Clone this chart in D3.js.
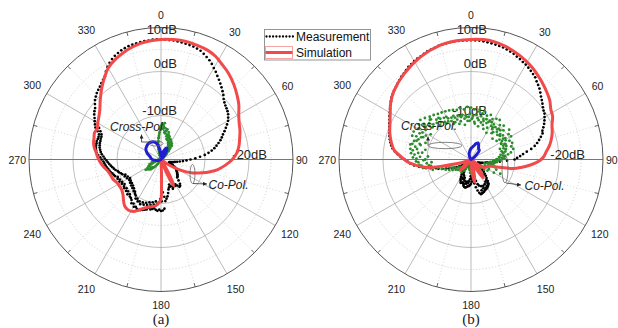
<!DOCTYPE html>
<html><head><meta charset="utf-8">
<script src="https://cdn.jsdelivr.net/npm/d3@7"></script>
<style>body{margin:0;background:#fff}svg{display:block}</style>
</head><body>
<svg id="c" width="618" height="328"></svg>
<script>
// ---------- data ----------
const angleTicks = [0,30,60,90,120,150,180,210,240,270,300,330];
const angleLabels = ["0","30","60","90","120","150","180","210","240","270","300","330"];
const ringValues = [10,0,-10];
const minorRings = [5,-5,-15];
const ringLabels = ["10dB","0dB","-10dB"];
const centerLabel = "-20dB";
const seriesNames = ["Measurement","Simulation"];
const panelNames = ["(a)","(b)"];

const measAngles = d3.range(0,360,2);
// (a) measured co-pol (dB), every 2 deg
const measA = [
 7.3,7.3,7.2,7.2,7.1,7.0,6.9,6.8,6.7,6.5,
 6.3,5.9,5.5,5.1,4.6,4.0,3.5,2.9,2.4,1.9,
 1.4,0.9,0.4,-0.2,-0.6,-0.9,-1.1,-1.3,-1.6,-2.0,
 -2.4,-3.0,-3.6,-4.2,-4.8,-5.3,-5.8,-6.4,-7.0,-7.6,
 -8.3,-9.1,-10.0,-11.1,-12.2,-13.3,-14.2,-15.0,-15.7,-16.3,
 -16.8,-17.2,-17.5,-17.8,-18.0,-18.0,-17.6,-17.2,-17.0,-16.6,
 -16.2,-16.0,-15.8,-15.6,-15.4,-15.2,-15.0,-14.8,-14.6,-14.5,
 -13.8,-13.0,-12.6,-12.5,-13.0,-13.5,-13.2,-13.6,-13.2,-12.8,
 -13.5,-14.0,-13.4,-13.0,-12.2,-11.5,-11.0,-10.5,-8.8,-8.4,
 -8.3,-8.6,-8.3,-8.5,-8.8,-8.6,-8.4,-8.7,-8.2,-8.0,
 -7.8,-7.6,-7.4,-7.5,-7.8,-7.6,-8.2,-8.0,-8.6,-8.9,
 -9.0,-9.4,-9.0,-9.6,-9.3,-9.8,-9.4,-9.6,-10.0,-9.5,
 -9.8,-9.3,-9.6,-9.2,-9.4,-8.9,-8.7,-8.5,-8.2,-8.0,
 -7.8,-7.5,-7.3,-7.1,-6.9,-6.5,-6.2,-5.7,-5.3,-5.1,
 -5.0,-4.9,-4.9,-4.8,-4.9,-4.9,-4.8,-4.2,-3.4,-3.0,
 -2.6,-2.2,-1.7,-1.3,-1.0,-0.4,0.2,0.6,1.0,1.3,
 1.6,2.0,2.4,2.8,3.6,4.3,4.9,5.4,5.8,6.1,
 6.4,6.6,6.8,6.9,7.0,7.1,7.2,7.2,7.3,7.3];
// (a) second sweep in the scattered back region
const extraA_angles = d3.range(175,299,2);
const extraA = [
 -11.5,-12.5,-10.5,-11.0,-10.2,-9.8,-10.4,-9.6,-10.1,-9.4,
 -9.9,-9.2,-9.6,-9.0,-9.4,-8.8,-9.3,-9.1,-9.6,-9.4,
 -10.0,-10.2,-10.6,-10.5,-11.0,-10.8,-11.3,-11.0,-11.5,-11.2,
 -11.6,-11.4,-11.8,-11.2,-11.5,-10.9,-11.2,-10.6,-10.4,-10.0,
 -9.8,-9.4,-9.1,-8.8,-8.5,-8.2,-7.9,-7.6,-7.2,-6.9,
 -6.5,-6.2,-6.0,-5.8,-5.7,-5.6,-5.6,-5.5,-5.5,-5.3,
 -4.8,-4.2];
// (a) simulated co-pol
const simA_deg = [0,6,12,18,23,28,32,38,44,50,55,60,65,70,75,80,85,90,95,100,
 104,108,113,119,125,131,146,151,154.5,157,161,176,178,179,180,182,186,192,
 197,203,208,213,218,222,227,232,237,242,248,253,258,263,268,272,276,280,284,288,
 292,296,300,305,309,315,321,326,330,336,341,346,350,355];
const simA_db = [7.3,7.4,7.4,7.2,7.0,6.5,5.8,4.9,3.8,2.6,1.6,0.4,-0.4,-0.9,-1.5,-2.0,-2.7,-3.8,-5.3,-6.9,
 -8.5,-10.2,-12.2,-15,-18,-20,-20,-16,-13.3,-16,-20,-20,-17,-13.5,-11,-10.3,-9.5,-9.0,
 -8.6,-7.6,-6.6,-6.3,-6.6,-7.3,-8.2,-8.7,-8.8,-8.7,-8.2,-8.0,-7.6,-6.8,-6.1,-5.6,-5.2,-4.6,-4.2,-4.0,
 -3.7,-3.9,-3.4,-2.8,-2.1,-0.5,1.3,2.8,4.0,5.1,5.8,6.4,6.8,7.1];
// (a) measured cross-pol
const crossMeasA = [
 -12.5,-11.8,-12.2,-11.7,-12.8,-13.5,-13.0,-14.2,-13.6,-14.8,
 -14.4,-15.5,-15.0,-16.2,-15.6,-15.8,-16.5,-15.6,-16.8,-16.0,
 -17.0,-17.5,-18.2,-18.8,-19.5,-19.2,-19.8,-21,-21,-21,
 -21,-21,-21,-21,-21,-21,-21,-21,-21,-21,
 -21,-21,-21,-21,-21,-21,-21,-21,-21,-21,
 -21,-21,-21,-21,-21,-21,-21,-21,-21,-21,
 -21,-21,-21,-21,-21,-21,-21,-21,-21,-21,
 -21,-21,-21,-21,-21,-21,-21,-21,-21,-21,
 -21,-21,-21,-21,-21,-21,-21,-21,-21,-21,
 -21,-21,-21,-21,-21,-21,-21,-21,-21,-21,
 -21,-21,-21,-20.5,-20,-19.5,-19.8,-19.2,-18.8,-18.5,
 -18.0,-17.6,-17.2,-16.8,-17.4,-16.5,-17.0,-16.2,-15.8,-16.4,
 -17.0,-16.8,-17.5,-18.0,-17.2,-18.5,-17.8,-18.6,-19.0,-18.2,
 -19.2,-18.8,-19.5,-20,-20.5,-21,-21,-21,-21,-21,
 -21,-21,-21,-21,-21,-21,-21,-21,-21,-21,
 -21,-21,-21,-21,-21,-21,-21,-21,-21,-21,
 -21,-21,-21,-21,-21,-21,-21,-21,-20.5,-20,
 -19.5,-19.0,-18.5,-18.0,-17.2,-16.5,-15.8,-15.0,-14.2,-13.2];
// (a) second cross-pol sweep in the upper lobe
const crossExtraA_angles = d3.range(-15,47,2);
const crossExtraA = [
 -18.5,-17.6,-16.8,-16.0,-15.2,-14.6,-13.8,-12.9,
 -12.2,-13.0,-12.6,-13.8,-14.0,-13.2,-14.6,-15.2,-14.1,-15.4,
 -14.8,-15.9,-14.9,-16.4,-15.3,-16.8,-15.9,-16.4,-17.2,-16.6,
 -17.5,-18.1,-18.6];
// (a) simulated cross-pol
const crossSimA_deg = [0,8,15,22,27,32,40,50,70,120,200,250,270,285,295,305,312,320,328,337,345,352,357];
const crossSimA_db = [-19.2,-18.8,-18.2,-17.4,-17.1,-17.5,-19.0,-20,-20,-20,-20,-19.5,-18,-17.4,-16.5,-15.8,-15.6,-15.4,-15.4,-15.6,-16.2,-17.5,-18.6];

// (b) measured co-pol
const measB = [
 7.1,7.1,7.1,7.0,6.9,6.8,6.7,6.6,6.5,6.3,
 6.1,5.9,5.6,5.4,5.1,4.9,4.6,4.3,4.0,3.7,
 3.2,2.8,2.4,1.9,1.4,1.0,0.6,0.2,-0.1,-0.3,
 -0.7,-1.1,-1.5,-2.0,-2.5,-2.7,-3.3,-3.9,-4.5,-5.2,
 -6.1,-7.2,-8.1,-8.8,-9.5,-10.1,-11.8,-13.4,-14.5,-15.6,
 -16.2,-16.5,-16.8,-17.2,-17.5,-17.8,-18.0,-18.2,-18.3,-18.2,
 -18.0,-17.8,-17.5,-17.2,-17.0,-16.7,-16.5,-16.0,-15.5,-15.0,
 -14.5,-13.8,-13.2,-13.0,-12.8,-12.6,-12.5,-12.4,-12.3,-12.1,
 -12.0,-11.9,-11.8,-12.2,-12.8,-13.6,-14.5,-15.0,-15.5,-15.0,
 -14.5,-14.2,-14.0,-13.9,-13.8,-13.6,-13.5,-13.6,-13.8,-14.2,
 -14.5,-14.3,-14.2,-14.6,-15.0,-15.5,-16.0,-16.4,-16.8,-17.2,
 -17.5,-17.8,-18.0,-18.2,-18.4,-18.3,-18.2,-17.8,-17.5,-17.2,
 -16.8,-16.3,-15.8,-15.2,-14.5,-13.9,-13.2,-12.3,-11.8,-10.5,
 -9.2,-8.1,-7.0,-6.2,-5.6,-4.9,-4.0,-3.3,-2.6,-2.0,
 -1.6,-1.3,-1.0,-0.7,-0.5,-0.3,0.0,0.3,0.6,1.0,
 1.3,1.7,2.1,2.5,2.9,3.2,3.5,3.7,4.0,4.3,
 4.6,4.8,5.1,5.4,5.6,5.8,6.0,6.1,6.3,6.5,
 6.6,6.7,6.9,6.9,7.0,7.1,7.1,7.1,7.1,7.1];
const extraB_angles = d3.range(141,221,2);
const extraB = [
 -15.5,-14.2,-13.5,-14.0,-13.0,-13.6,-12.8,-13.4,-12.9,-13.5,
 -12.6,-13.8,-14.2,-15.0,-16.0,-16.5,-17.0,-16.2,-16.8,-15.8,
 -16.2,-15.5,-15.0,-14.6,-14.9,-14.4,-14.8,-14.3,-15.0,-15.6,
 -15.2,-16.0,-15.4,-16.3,-16.8,-17.4,-17.9,-18.5,-18.8,-19.2];
// (b) simulated co-pol
const simB_deg = [0,6,11,17,22,28,33,38,43,48,53,58,62,67,72,76,80,84,88,92,
 95,99,102,106,110,116,122,128,136,141,146,151,156,163,167,171,175,180,215,221,
 225,229,234,246,250,254,257,259,262,265,268,272,277,282,288,295,300,305,312,322,
 334,345,353];
const simB_db = [7.3,7.4,7.3,6.9,6.4,5.8,5.2,4.5,3.8,3.1,2.4,1.4,1.0,0.0,-0.6,-1.2,-1.9,-2.8,-3.5,-4.8,
 -6.3,-8.5,-10.2,-13.9,-15.5,-16.2,-16.5,-20,-20,-17,-15,-17.5,-20,-20,-17,-14.8,-17,-20,-20,-18,
 -16.5,-18,-20,-20,-18.5,-16.5,-13.5,-10.5,-8.5,-7.0,-5.5,-4.2,-2.4,-1.5,-0.6,0.3,1.2,2.3,3.5,4.7,
 6.0,6.9,7.2];
// (b) measured cross-pol
const crossMeasB = [
 -8.2,-10.5,-8.6,-11.8,-9.0,-8.4,-12.3,-9.2,-8.6,-10.8,
 -9.4,-12.5,-8.9,-10.2,-9.6,-13.0,-9.1,-11.2,-8.9,-12.4,
 -9.8,-10.6,-9.3,-13.2,-10.1,-11.5,-9.0,-12.8,-9.7,-10.8,
 -9.5,-12.2,-10.3,-11.4,-9.9,-13.0,-10.4,-11.8,-10.1,-12.6,
 -10.8,-11.5,-12.2,-13.5,-12.4,-14.2,-13.3,-15.0,-14.1,-15.6,
 -14.8,-16.2,-15.2,-16.8,-14.3,-15.9,-13.8,-16.5,-12.6,-15.4,
 -14.0,-16.8,-15.5,-17.4,-16.2,-17.8,-17.0,-18.2,-17.5,-18.6,
 -18.0,-19.0,-18.4,-19.3,-18.8,-19.5,-18.7,-19.2,-18.5,-19.6,
 -18.9,-19.4,-18.2,-19.0,-17.8,-18.6,-17.5,-18.4,-17.2,-18.1,
 -16.9,-17.8,-17.0,-18.3,-17.6,-18.8,-18.0,-19.1,-18.4,-19.3,
 -18.6,-19.0,-18.2,-18.8,-17.6,-18.4,-17.0,-17.9,-16.4,-17.3,
 -17.5,-18.2,-17.0,-17.8,-16.6,-17.4,-16.2,-17.0,-15.8,-16.6,
 -15.2,-16.0,-14.5,-15.4,-13.8,-14.8,-13.0,-14.2,-12.2,-11.6,
 -8.9,-10.4,-8.2,-11.0,-7.5,-9.6,-6.8,-10.2,-6.3,-8.8,
 -6.0,-9.4,-5.8,-8.1,-6.4,-9.0,-5.6,-7.6,-5.5,-8.4,
 -6.1,-9.2,-5.7,-7.3,-5.4,-8.6,-5.9,-7.0,-6.5,-9.5,
 -6.8,-8.0,-7.2,-10.1,-7.4,-8.8,-7.6,-11.0,-7.8,-9.3,
 -8.0,-11.5,-8.3,-9.8,-8.1,-12.0,-8.5,-10.3,-8.0,-11.2];
// (b) second cross-pol sweep over the upper band (negative = west of north)
const crossExtraB_angles = d3.range(-105,107,2);
const crossExtraB = [
 -11.0,-12.3,-9.6,-10.8,-8.7,-9.9,-8.0,-9.2,
 -7.6,-8.4,-7.1,-7.9,-6.6,-7.5,-7.0,-6.2,-7.8,-6.9,
 -7.2,-6.5,-8.0,-6.9,-7.4,-6.3,-7.7,-7.0,-6.6,-7.9,
 -7.4,-8.3,-7.1,-8.6,-8.0,-9.1,-8.4,-9.6,-8.7,-9.9,
 -9.3,-10.2,-9.5,-10.8,-9.8,-10.4,-9.6,-11.0,-10.1,-9.7,
 -10.6,-9.9,-11.2,-10.3,-9.6,-10.8,-10.0,-11.4,-9.8,-10.5,
 -10.9,-9.9,-11.3,-10.4,-11.7,-10.2,-11.0,-10.6,-11.9,-10.3,
 -11.1,-10.5,-11.6,-10.8,-12.0,-10.9,-11.4,-10.6,-11.8,-11.2,
 -11.5,-10.9,-12.1,-11.3,-11.8,-11.0,-12.3,-11.6,-12.0,-11.4,
 -12.2,-11.7,-12.8,-12.0,-12.5,-13.2,-12.7,-13.6,-13.0,-14.1,
 -13.8,-14.6,-14.2,-15.1,-14.7,-15.5,-15.0,-15.8];
// (b) simulated cross-pol
const crossSimB_deg = [0,6,12,18,23,28,35,42,50,60,80,180,300,330,340,350,356];
const crossSimB_db = [-17.5,-17.2,-16.8,-16.2,-15.9,-16.3,-17.0,-17.2,-18.5,-19.6,-20,-20,-20,-19.5,-18.8,-18.2,-17.8];

// ---------- drawing ----------
const R = 132;
const FONT = "'Liberation Sans', Arial, sans-serif";
const COL = {meas:"#000", sim:"#f24a4a", xmeas:"#2a8c2a", xsim:"#1f1fd0"};
const svg = d3.select("#c");
svg.append("rect").attr("width",618).attr("height",328).attr("fill","#fff");
const defs = svg.append("defs");
defs.append("marker").attr("id","arr").attr("viewBox","0 0 10 10").attr("refX",10).attr("refY",5)
  .attr("markerWidth",5).attr("markerHeight",5).attr("orient","auto")
  .append("path").attr("d","M0,0L10,5L0,10z").attr("fill","#222");

const rS = d3.scaleLinear().domain([-20,10]).range([0,R]).clamp(true);
const toRad = d3.scaleLinear().domain([0,360]).range([0,2*Math.PI]);
const pt = (a,v) => { const r=rS(v), t=toRad(a); return [r*Math.sin(t), -r*Math.cos(t)]; };
const radialLine = d3.lineRadial().angle(d=>toRad(d[0])).radius(d=>rS(d[1]))
  .curve(d3.curveCatmullRomClosed.alpha(0.5));

const charts = [
 {cx:161, cy:159.5, name:panelNames[0], meas:measA, extraAng:extraA_angles, extra:extraA,
  simDeg:simA_deg, sim:simA_db, xmeas:crossMeasA, xExtraAng:crossExtraA_angles, xExtra:crossExtraA,
  xsimDeg:crossSimA_deg, xsim:crossSimA_db, cLabX:106,
  cross:{tx:110, ty:127, ax:141.5, ay0:142, ay1:134.5, lx:150, ex:156, ey:143.5, erx:7, ery:2.5},
  co:{ex:192.5, ey:174, erx:2.5, ery:9.5, x0:193, y0:183.5, x1:207, y1:184, tx:208.5, ty:184.5}},
 {cx:471, cy:159.5, name:panelNames[1], meas:measB, extraAng:extraB_angles, extra:extraB,
  simDeg:simB_deg, sim:simB_db, xmeas:crossMeasB, xExtraAng:crossExtraB_angles, xExtra:crossExtraB,
  xsimDeg:crossSimB_deg, xsim:crossSimB_db, cLabX:114,
  cross:{tx:401, ty:126, ax:428, ay0:145.5, ay1:136.5, lx:428, ex:445, ey:145.5, erx:17, ery:3.2},
  co:{ex:505, ey:169, erx:3, ery:14, x0:506, y0:183, x1:521, y1:185, tx:524.5, ty:186}}
];

charts.forEach(c => {
  const g = svg.append("g").attr("transform",`translate(${c.cx},${c.cy})`);
  // minor rings
  g.selectAll(".mr").data(minorRings).join("circle").attr("r",d=>rS(d))
    .attr("fill","none").attr("stroke","#c4c4c4").attr("stroke-width",0.7).attr("stroke-dasharray","1.2,2");
  // minor spokes
  g.selectAll(".ms").data(angleTicks).join("line")
    .attr("x1",0).attr("y1",0)
    .attr("x2",d=>R*Math.sin(toRad(d+15))).attr("y2",d=>-R*Math.cos(toRad(d+15)))
    .attr("stroke","#cfcfcf").attr("stroke-width",0.7).attr("stroke-dasharray","1.2,2");
  // major rings
  g.selectAll(".rg").data(ringValues.filter(v=>v<10)).join("circle").attr("r",d=>rS(d))
    .attr("fill","none").attr("stroke","#b0b0b0").attr("stroke-width",0.8);
  // major spokes
  g.selectAll(".sp").data(angleTicks).join("line")
    .attr("x1",0).attr("y1",0)
    .attr("x2",d=>R*Math.sin(toRad(d))).attr("y2",d=>-R*Math.cos(toRad(d)))
    .attr("stroke",d=>(d%180===90)?"#777":"#a8a8a8").attr("stroke-width",d=>(d%180===90)?1:0.8);
  // outer circle + minor ticks
  g.append("circle").attr("r",rS(10)).attr("fill","none").attr("stroke","#555").attr("stroke-width",1);
  g.selectAll(".tk").data(angleTicks).join("line")
    .attr("x1",d=>R*Math.sin(toRad(d+15))).attr("y1",d=>-R*Math.cos(toRad(d+15)))
    .attr("x2",d=>(R-4)*Math.sin(toRad(d+15))).attr("y2",d=>-(R-4)*Math.cos(toRad(d+15)))
    .attr("stroke","#555").attr("stroke-width",0.9);
  // angle labels
  g.selectAll(".al").data(angleTicks).join("text")
    .attr("font-family",FONT).attr("font-size",10.5).attr("fill","#222")
    .attr("text-anchor","middle").attr("dominant-baseline","central")
    .text((d,i)=>angleLabels[i])
    .each(function(d){
      const w=this.getComputedTextLength(), t=toRad(d);
      const s=Math.abs(Math.sin(t)), co=Math.abs(Math.cos(t));
      const rr = R + 6*co + 3*s + s*w/2 + co*7;
      d3.select(this).attr("x",rr*Math.sin(t)).attr("y",-rr*Math.cos(t));
    });
  // ring labels
  const offs = [2,-8,-5.5];
  g.selectAll(".rl").data(ringValues).join("text")
    .attr("font-family",FONT).attr("font-size",13).attr("fill","#222")
    .attr("text-anchor","end").attr("dominant-baseline","central")
    .attr("x",16).attr("y",(d,i)=>-rS(d)+offs[i]).text((d,i)=>ringLabels[i]);
  g.append("text").attr("font-family",FONT).attr("font-size",13).attr("fill","#222")
    .attr("text-anchor","end").attr("dominant-baseline","central")
    .attr("x",c.cLabX).attr("y",-5).text(centerLabel);

  // measured co-pol dots
  const mPts = measAngles.map((a,i)=>[a,c.meas[i]]).concat(c.extraAng.map((a,i)=>[a,c.extra[i]]));
  g.selectAll(".md").data(mPts.filter(d=>d[1]>=-20)).join("circle")
    .attr("cx",d=>pt(d[0],d[1])[0]).attr("cy",d=>pt(d[0],d[1])[1]).attr("r",1.35).attr("fill",COL.meas);
  // measured cross-pol dots
  const xPts = measAngles.map((a,i)=>[a,c.xmeas[i]])
    .concat(c.xExtraAng.map((a,i)=>[a,c.xExtra[i]])).filter(d=>d[1]>=-20);
  g.selectAll(".xd").data(xPts).join("circle")
    .attr("cx",d=>pt(d[0],d[1])[0]).attr("cy",d=>pt(d[0],d[1])[1]).attr("r",1.4).attr("fill",COL.xmeas);
  // simulated co-pol
  g.append("path").attr("d",radialLine(c.simDeg.map((a,i)=>[a,c.sim[i]])))
    .attr("fill","none").attr("stroke",COL.sim).attr("stroke-width",3).attr("stroke-linejoin","round");
  // simulated cross-pol
  g.append("path").attr("d",radialLine(c.xsimDeg.map((a,i)=>[a,c.xsim[i]])))
    .attr("fill","none").attr("stroke",COL.xsim).attr("stroke-width",3).attr("stroke-linejoin","round");

  // annotations (absolute coords)
  const a = svg.append("g");
  const cr = c.cross;
  a.append("text").attr("x",cr.tx).attr("y",cr.ty).attr("dominant-baseline","central")
    .attr("font-family",FONT).attr("font-size",12).attr("font-style","italic").attr("fill","#222").text("Cross-Pol.");
  a.append("ellipse").attr("cx",cr.ex).attr("cy",cr.ey).attr("rx",cr.erx).attr("ry",cr.ery)
    .attr("fill","none").attr("stroke","#666").attr("stroke-width",0.8);
  a.append("path").attr("d",`M${cr.lx},${cr.ay0}L${cr.ax},${cr.ay0}`).attr("stroke","#333").attr("stroke-width",0.8);
  a.append("path").attr("d",`M${cr.ax},${cr.ay0}L${cr.ax},${cr.ay1}`).attr("stroke","#333").attr("stroke-width",0.8)
    .attr("marker-end","url(#arr)");
  const co = c.co;
  a.append("ellipse").attr("cx",co.ex).attr("cy",co.ey).attr("rx",co.erx).attr("ry",co.ery)
    .attr("fill","none").attr("stroke","#666").attr("stroke-width",0.8);
  a.append("path").attr("d",`M${co.x0},${co.y0}L${co.x1},${co.y1}`).attr("stroke","#333").attr("stroke-width",0.8)
    .attr("marker-end","url(#arr)");
  a.append("text").attr("x",co.tx).attr("y",co.ty).attr("dominant-baseline","central")
    .attr("font-family",FONT).attr("font-size",12).attr("font-style","italic").attr("fill","#222").text("Co-Pol.");
  // panel label
  svg.append("text").attr("x",c.cx).attr("y",319).attr("text-anchor","middle").attr("dominant-baseline","central")
    .attr("font-family","'Liberation Serif','Times New Roman',serif").attr("font-size",15).attr("fill","#222").text(c.name);
});

// legend
const lg = svg.append("g");
lg.append("rect").attr("x",264.5).attr("y",29.5).attr("width",106).attr("height",30.5)
  .attr("fill","#fff").attr("stroke","#8a8a8a").attr("stroke-width",0.9);
lg.selectAll(".ld").data(d3.range(266.5,293,3.3)).join("circle")
  .attr("cx",d=>d).attr("cy",36.5).attr("r",1.15).attr("fill",COL.meas);
lg.append("rect").attr("x",265.5).attr("y",46.5).attr("width",27).attr("height",12)
  .attr("fill","none").attr("stroke","#f5a3a3").attr("stroke-width",1);
lg.append("line").attr("x1",265.5).attr("x2",292.5).attr("y1",52.5).attr("y2",52.5)
  .attr("stroke",COL.sim).attr("stroke-width",3);
lg.selectAll(".lt").data(seriesNames).join("text")
  .attr("x",296).attr("y",(d,i)=>i?52.5:36.5).attr("dominant-baseline","central")
  .attr("font-family",FONT).attr("font-size",12).attr("fill","#111").text(d=>d);
</script>
</body></html>
